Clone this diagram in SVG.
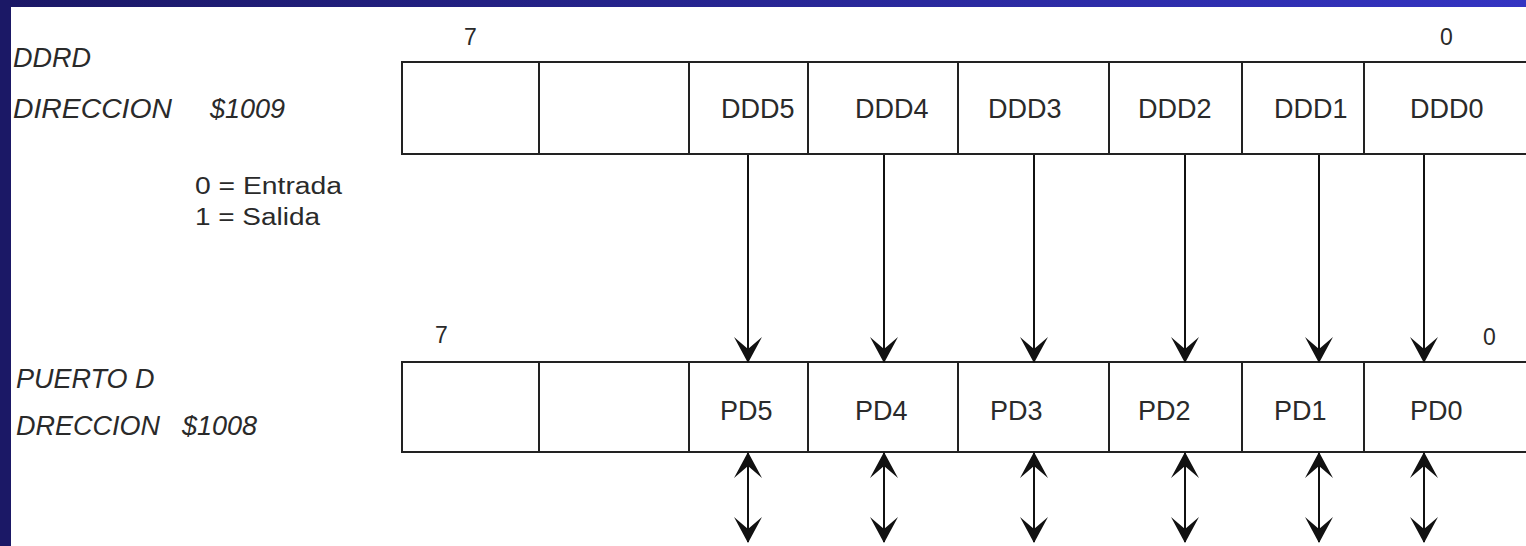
<svg xmlns="http://www.w3.org/2000/svg" width="1526" height="546" viewBox="0 0 1526 546">
  <defs>
    <linearGradient id="topBand" x1="0" y1="0" x2="1" y2="0">
      <stop offset="0" stop-color="#1b1866"/>
      <stop offset="1" stop-color="#3434c2"/>
    </linearGradient>
    <marker id="head" viewBox="-27 -16 29 32" refX="0" refY="0" markerWidth="29" markerHeight="32" markerUnits="userSpaceOnUse" orient="auto-start-reverse">
      <path d="M1,0 L-25,-14 L-13,0 L-25,14 Z" fill="#111"/>
    </marker>
    <style>
      .cell { fill: #fff; stroke: #222; stroke-width: 2; }
      .lbl { font-family: "Liberation Sans", Arial, sans-serif; font-size: 27px; fill: #2a2a2a; }
      .side { font-family: "Liberation Sans", Arial, sans-serif; font-size: 27px; font-style: italic; fill: #2a2a2a; }
      .note { font-family: "Liberation Sans", Arial, sans-serif; font-size: 23px; fill: #2a2a2a; }
      .bit { font-family: "Liberation Sans", Arial, sans-serif; font-size: 23px; fill: #2a2a2a; }
      .wire { stroke: #111; stroke-width: 2; fill: none; }
    </style>
  </defs>

  <!-- page background and frame -->
  <rect x="0" y="0" width="1526" height="546" fill="#fff"/>
  <rect x="0" y="0" width="1526" height="7" fill="url(#topBand)"/>
  <rect x="0" y="0" width="11" height="546" fill="#1b1866"/>

  <!-- side labels -->
  <g id="label-ddrd">
    <text class="side" x="13" y="67">DDRD</text>
    <text class="side" x="13" y="118" textLength="159" lengthAdjust="spacingAndGlyphs">DIRECCION</text>
    <text class="side" x="210" y="118">$1009</text>
  </g>
  <g id="label-legend">
    <text class="note" x="195" y="194" textLength="147" lengthAdjust="spacingAndGlyphs">0 = Entrada</text>
    <text class="note" x="195" y="225" textLength="125" lengthAdjust="spacingAndGlyphs">1 = Salida</text>
  </g>
  <g id="label-puerto">
    <text class="side" x="16" y="388">PUERTO D</text>
    <text class="side" x="16" y="435">DRECCION</text>
    <text class="side" x="182" y="435">$1008</text>
  </g>

  <!-- DDRD register -->
  <g id="reg-ddrd">
    <text class="bit" x="464" y="45">7</text>
    <text class="bit" x="1440" y="45">0</text>
    <rect class="cell" x="402" y="62" width="137" height="92"/>
    <rect class="cell" x="539" y="62" width="150" height="92"/>
    <rect class="cell" x="689" y="62" width="119" height="92"/>
    <rect class="cell" x="808" y="62" width="150" height="92"/>
    <rect class="cell" x="958" y="62" width="151" height="92"/>
    <rect class="cell" x="1109" y="62" width="133" height="92"/>
    <rect class="cell" x="1242" y="62" width="122" height="92"/>
    <rect class="cell" x="1364" y="62" width="180" height="92"/>
    <text class="lbl" x="721" y="118">DDD5</text>
    <text class="lbl" x="855" y="118">DDD4</text>
    <text class="lbl" x="988" y="118">DDD3</text>
    <text class="lbl" x="1138" y="118">DDD2</text>
    <text class="lbl" x="1274" y="118">DDD1</text>
    <text class="lbl" x="1410" y="118">DDD0</text>
  </g>

  <!-- Port D register -->
  <g id="reg-portd">
    <text class="bit" x="435" y="343">7</text>
    <text class="bit" x="1483" y="345">0</text>
    <rect class="cell" x="402" y="362" width="137" height="90"/>
    <rect class="cell" x="539" y="362" width="150" height="90"/>
    <rect class="cell" x="689" y="362" width="119" height="90"/>
    <rect class="cell" x="808" y="362" width="150" height="90"/>
    <rect class="cell" x="958" y="362" width="151" height="90"/>
    <rect class="cell" x="1109" y="362" width="133" height="90"/>
    <rect class="cell" x="1242" y="362" width="122" height="90"/>
    <rect class="cell" x="1364" y="362" width="180" height="90"/>
    <text class="lbl" x="720" y="420">PD5</text>
    <text class="lbl" x="855" y="420">PD4</text>
    <text class="lbl" x="990" y="420">PD3</text>
    <text class="lbl" x="1138" y="420">PD2</text>
    <text class="lbl" x="1274" y="420">PD1</text>
    <text class="lbl" x="1410" y="420">PD0</text>
  </g>

  <!-- connectors: direction bits to port pins, and bidirectional pins -->
  <g id="connectors" class="wire">
    <line x1="748" y1="155" x2="748" y2="362" marker-end="url(#head)"/>
    <line x1="884" y1="155" x2="884" y2="362" marker-end="url(#head)"/>
    <line x1="1034" y1="155" x2="1034" y2="362" marker-end="url(#head)"/>
    <line x1="1185" y1="155" x2="1185" y2="362" marker-end="url(#head)"/>
    <line x1="1319" y1="155" x2="1319" y2="362" marker-end="url(#head)"/>
    <line x1="1424" y1="155" x2="1424" y2="362" marker-end="url(#head)"/>

    <line x1="748" y1="453" x2="748" y2="542" marker-start="url(#head)" marker-end="url(#head)"/>
    <line x1="884" y1="453" x2="884" y2="542" marker-start="url(#head)" marker-end="url(#head)"/>
    <line x1="1034" y1="453" x2="1034" y2="542" marker-start="url(#head)" marker-end="url(#head)"/>
    <line x1="1185" y1="453" x2="1185" y2="542" marker-start="url(#head)" marker-end="url(#head)"/>
    <line x1="1319" y1="453" x2="1319" y2="542" marker-start="url(#head)" marker-end="url(#head)"/>
    <line x1="1424" y1="453" x2="1424" y2="542" marker-start="url(#head)" marker-end="url(#head)"/>
  </g>
</svg>
